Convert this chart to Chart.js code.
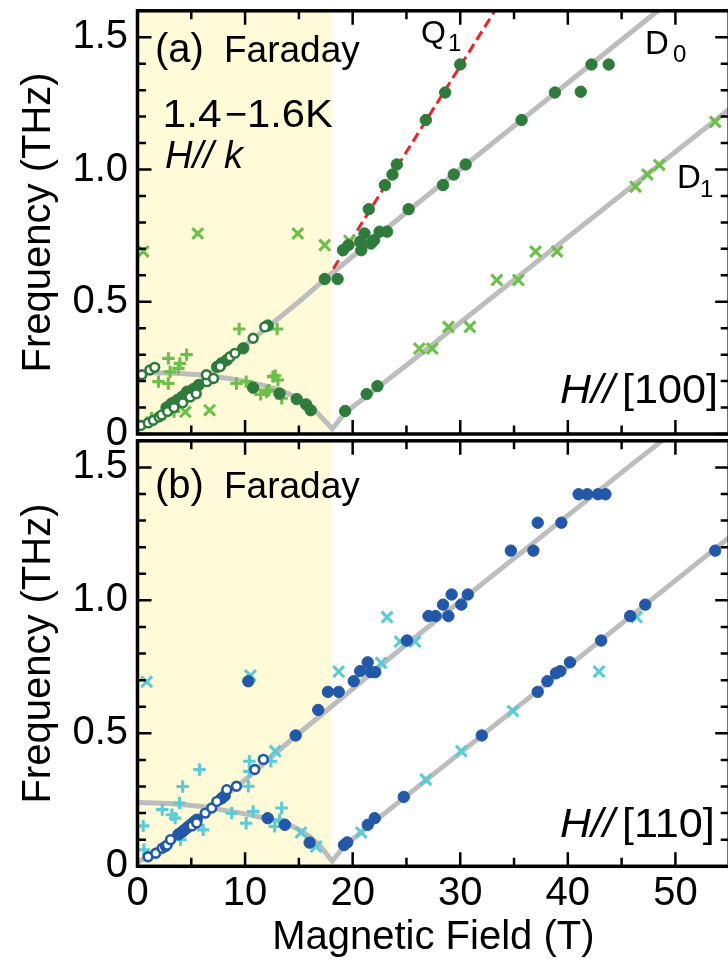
<!DOCTYPE html>
<html><head><meta charset="utf-8">
<script src="https://cdn.jsdelivr.net/npm/chart.js@4"></script>
<style>
html,body{margin:0;padding:0;background:#fff;overflow:hidden;width:728px;height:963px;position:relative;}
#ca{position:absolute;left:0;top:0;}
#cb{position:absolute;left:0;top:430px;}
</style></head><body>
<canvas id="ca" width="740" height="470"></canvas>
<canvas id="cb" width="740" height="533"></canvas>
<script>
// ---------- axes ----------
const X_MIN = 0, X_MAX = 55, Y_MIN = 0, Y_MAX = 1.6;
const xTickValues = [0, 10, 20, 30, 40, 50];
const xTickLabels = ['0', '10', '20', '30', '40', '50'];
const yTickValues = [0, 0.5, 1.0, 1.5];
const yTickLabels = ['0', '0.5', '1.0', '1.5'];
const shadedField = [0, 18];

// ---------- panel (a) H//[100] ----------
const aFilledCircles = [
 [2.7,0.10],[3.07,0.109],[3.2,0.116],[3.69,0.128],[4.15,0.141],[4.6,0.16],[5.2,0.17],[5.68,0.185],[7.4,0.254],[7.68,0.26],[7.8,0.267],[8.3,0.28],[9.83,0.324],[12.1,0.41],
 [10.75,0.175],[13.2,0.153],[14.8,0.132],[15.67,0.112],[16.1,0.09],
 [17.4,0.586],[18.6,0.586],
 [19.3,0.087],[21.3,0.151],[22.3,0.181],
 [19.1,0.695],[19.6,0.714],[20.8,0.695],[20.7,0.727],[21.1,0.758],[21.7,0.72],[22.0,0.733],[22.5,0.765],[23.2,0.765],
 [21.5,0.85],[23.0,0.941],[23.7,0.981],[24.1,1.019],[26.8,1.187],[28.6,1.291],[30.0,1.397],
 [25.2,0.85],[28.4,0.941],[29.4,0.981],[30.5,1.019],[35.7,1.187],[38.8,1.291],[41.2,1.294],[42.2,1.397],[43.8,1.397]
];
const aOpenCircles = [
 [0.4,0.224],[1.15,0.242],[1.6,0.252],
 [0.3,0.032],[1.0,0.042],[1.47,0.052],[2.0,0.064],[2.25,0.072],[2.8,0.085],[3.4,0.1],[4.2,0.118],[4.9,0.14],[5.46,0.152],
 [6.45,0.198],[6.4,0.224],[7.07,0.21],[7.68,0.255],[8.6,0.292],[9.06,0.305],[10.75,0.362],[11.83,0.405]
];
const aCrosses = [
 [0.53,0.69],[5.6,0.758],[14.9,0.758],[17.4,0.714],[4.45,0.084],[6.7,0.09],[19.7,0.73],
 [26.2,0.323],[27.4,0.323],[28.9,0.405],[30.9,0.405],[33.4,0.582],[35.4,0.582],[37.0,0.69],[39.0,0.69],
 [46.3,0.935],[47.4,0.981],[48.5,1.017],[53.7,1.18]
];
const aPluses = [
 [1.3,0.06],[2.5,0.075],[3.4,0.085],[1.95,0.198],[2.87,0.191],[3.03,0.235],[3.8,0.248],[3.94,0.267],[2.87,0.286],[4.56,0.3],
 [9.2,0.191],[10.1,0.198],[9.45,0.397],[12.98,0.397],[11.45,0.15],[12.0,0.16],[12.2,0.166],[12.6,0.217],[12.8,0.22],[13.05,0.204],[13.4,0.135]
];
const aLowerBranch = [[0,0.232],[2,0.232],[4,0.229],[6,0.223],[8,0.213],[10,0.2],[12,0.181],[13.5,0.162],[14.8,0.138],[15.8,0.112],[16.6,0.085],[17.3,0.055],[18.1,0.02],[19.3,0.08],[25,0.26],[55,1.228]];
const aD0Branch = [[0,0.02],[1,0.045],[2.5,0.09],[5,0.17],[10,0.335],[15,0.5],[18,0.605],[25.2,0.845],[35.7,1.187],[48.6,1.608],[52,1.72]];
const aQ1Line = [[18.2,0.625],[33.6,1.625]];

// ---------- panel (b) H//[110] ----------
const bFilledCircles = [
 [3.8,0.12],[4.1,0.128],[4.3,0.135],[4.6,0.145],[4.9,0.155],[5.2,0.165],[5.5,0.175],[7.8,0.255],[8.1,0.265],
 [12.1,0.181],[13.7,0.156],[16.0,0.089],
 [10.3,0.696],
 [14.7,0.492],[16.8,0.588],[17.7,0.656],[18.7,0.656],[20.1,0.696],[20.7,0.734],[21.4,0.767],[21.7,0.73],[22.1,0.73],[25.05,0.849],
 [27.05,0.941],[27.7,0.941],[28.9,0.941],[28.4,0.984],[29.2,1.022],[30.1,0.984],[30.7,1.022],[34.7,1.187],[36.8,1.187],
 [37.2,1.292],[39.4,1.292],[41.0,1.399],[41.8,1.399],[42.8,1.399],[43.5,1.399],
 [19.2,0.08],[19.5,0.09],[21.4,0.156],[22.05,0.181],[24.75,0.261],[32.0,0.492],[37.2,0.656],[38.1,0.696],[38.9,0.726],[39.3,0.734],
 [40.2,0.767],[43.1,0.849],[45.8,0.941],[47.2,0.984],[53.7,1.187]
];
const bOpenCircles = [
 [0.98,0.036],[1.7,0.049],[2.3,0.068],[2.6,0.075],[2.76,0.08],[3.07,0.1],[5.07,0.152],[5.5,0.163],[6.3,0.2],[6.9,0.219],
 [7.37,0.244],[8.3,0.288],[9.2,0.301],[10.9,0.364],[11.7,0.402]
];
const bCrosses = [
 [0.85,0.694],[10.5,0.717],[18.7,0.732],[12.8,0.433],[15.2,0.127],[16.6,0.074],[20.8,0.127],[22.65,0.765],[23.2,0.937],
 [24.4,0.845],[25.8,0.845],[26.8,0.326],[30.1,0.433],[34.9,0.584],[42.9,0.732],[46.4,0.937]
];
const bPluses = [
 [0.53,0.152],[0.6,0.062],[2.3,0.213],[3.2,0.194],[3.5,0.181],[3.9,0.238],[4.2,0.3],[4.0,0.1],[5.76,0.364],[6.1,0.137],
 [8.76,0.2],[10.1,0.162],[10.3,0.301],[10.4,0.395],[10.4,0.357],[10.75,0.206],[12.4,0.395],[12.75,0.15],[13.2,0.175],[13.4,0.219]
];
const bLowerBranch = [[0,0.24],[3,0.236],[6,0.225],[10,0.197],[12,0.18],[13.8,0.162],[15,0.138],[16,0.112],[16.8,0.085],[17.4,0.055],[18.1,0.02],[19.3,0.08],[25,0.265],[55,1.237]];
const bD0Branch = [[0,0.015],[1,0.04],[2.5,0.085],[5,0.165],[10,0.325],[14.7,0.49],[18,0.6],[25,0.835],[45.6,1.5],[50,1.64]];

// ---------- styles ----------
const FONT = "'Liberation Sans', Arial, Helvetica, sans-serif";
const DARK_GREEN = '#2e7b3b', LIGHT_GREEN = '#6cc04a';
const DARK_BLUE = '#2357a7', CYAN = '#5ccbd6';
const THEORY_GRAY = '#bdbdbd', Q_RED = '#e8242c', BAND = '#fffad8';
const Y_AXIS_WIDTH = 137.5;

Chart.defaults.font.family = FONT;
Chart.defaults.color = '#000';

const pts = arr => arr.map(([x, y]) => ({x, y}));

function buildDatasets(p) {
  const sets = [
    {data: pts(p.open), pointStyle: 'circle', pointRadius: 4.4, pointBorderWidth: 2.6, pointBackgroundColor: '#fff', pointBorderColor: p.dark, showLine: false, order: 0},
    {data: pts(p.filled), pointStyle: 'circle', pointRadius: 5.7, pointBorderWidth: 1, pointBackgroundColor: p.dark, pointBorderColor: p.dark, showLine: false, order: 1},
    {data: pts(p.crosses), pointStyle: 'crossRot', pointRadius: 7.7, pointBorderWidth: 3.1, pointBorderColor: p.light, pointBackgroundColor: p.light, showLine: false, order: 2},
    {data: pts(p.pluses), pointStyle: 'cross', pointRadius: 6.2, pointBorderWidth: 3.1, pointBorderColor: p.light, pointBackgroundColor: p.light, showLine: false, order: 3},
    {data: pts(p.lower), showLine: true, borderColor: THEORY_GRAY, borderWidth: 5, pointRadius: 0, tension: 0, fill: false, order: 6},
    {data: pts(p.d0), showLine: true, borderColor: THEORY_GRAY, borderWidth: 5, pointRadius: 0, tension: 0, fill: false, order: 6}
  ];
  if (p.q1) sets.push({data: pts(p.q1), showLine: true, borderColor: Q_RED, borderWidth: 3, borderDash: [10, 5], pointRadius: 0, tension: 0, fill: false, order: 5});
  return sets;
}

const bandPlugin = {
  id: 'band',
  beforeDatasetsDraw(chart) {
    const {ctx, chartArea: {top, bottom}, scales: {x}} = chart;
    const x0 = x.getPixelForValue(shadedField[0]), x1 = x.getPixelForValue(shadedField[1]);
    ctx.save(); ctx.fillStyle = BAND; ctx.fillRect(x0, top, x1 - x0, bottom - top); ctx.restore();
  }
};

const framePlugin = {
  id: 'frame',
  afterDraw(chart) {
    const {ctx, chartArea: {left, right, top, bottom}, scales: {x, y}} = chart;
    ctx.save();
    ctx.strokeStyle = '#000'; ctx.lineWidth = 2.5; ctx.lineCap = 'butt';
    ctx.beginPath();
    for (let v = X_MIN; v <= X_MAX + 1e-9; v += 5) {
      const px = x.getPixelForValue(v), L = (Math.round(v) % 10 === 0) ? 14 : 8.5;
      ctx.moveTo(px, bottom); ctx.lineTo(px, bottom - L);
      ctx.moveTo(px, top); ctx.lineTo(px, top + L);
    }
    for (let i = 0; i <= 16; i++) {
      const py = y.getPixelForValue(i / 10), L = (i % 5 === 0) ? 14 : 8.5;
      ctx.moveTo(left, py); ctx.lineTo(left + L, py);
      ctx.moveTo(right, py); ctx.lineTo(right - L, py);
    }
    ctx.stroke();
    ctx.lineWidth = 3.5;
    ctx.strokeRect(left, top, right - left, bottom - top);
    ctx.restore();
  }
};

function textPlugin(items) {
  return {
    id: 'texts',
    afterDraw(chart) {
      const ctx = chart.ctx;
      ctx.save(); ctx.fillStyle = '#000'; ctx.textAlign = 'left'; ctx.textBaseline = 'alphabetic';
      for (const it of items) {
        ctx.save();
        ctx.font = (it.italic ? 'italic ' : '') + it.size + 'px ' + FONT;
        ctx.translate(it.x, it.y);
        ctx.scale(it.sx || 1, 1);
        ctx.fillText(it.text, 0, 0);
        ctx.restore();
      }
      ctx.restore();
    }
  };
}

function makeChart(canvas, p) {
  return new Chart(canvas, {
    type: 'scatter',
    data: {datasets: buildDatasets(p)},
    options: {
      responsive: false, animation: false, events: [],
      layout: {padding: {left: 0, right: 740 - 734.3, top: p.padTop, bottom: 0}},
      plugins: {legend: {display: false}, tooltip: {enabled: false}},
      scales: {
        x: {
          type: 'linear', min: X_MIN, max: X_MAX,
          afterBuildTicks: s => { s.ticks = xTickValues.map(v => ({value: v})); },
          afterFit: s => { s.height = p.xHeight; s.paddingLeft = 0; s.paddingRight = 0; },
          grid: {display: false, drawTicks: false}, border: {display: false},
          ticks: {display: p.showX, padding: 4, maxRotation: 0, autoSkip: false, font: {size: 40},
                  callback: v => xTickLabels[xTickValues.indexOf(v)]},
          title: {display: p.showX, text: 'Magnetic Field (T)', font: {size: 40}, padding: {top: 0, bottom: 1.5}}
        },
        y: {
          type: 'linear', min: Y_MIN, max: Y_MAX,
          afterBuildTicks: s => { s.ticks = yTickValues.map(v => ({value: v})); },
          afterFit: s => { s.width = Y_AXIS_WIDTH; s.paddingTop = 0; s.paddingBottom = 0; },
          grid: {display: false, drawTicks: false}, border: {display: false},
          ticks: {padding: 9.5, font: {size: 40}, callback: v => yTickLabels[yTickValues.indexOf(v)]},
          title: {display: true, text: 'Frequency (THz)', font: {size: 40}, padding: {top: 15, bottom: 0}}
        }
      }
    },
    plugins: [bandPlugin, framePlugin, textPlugin(p.texts)]
  });
}

makeChart(document.getElementById('ca'), {
  open: aOpenCircles, filled: aFilledCircles, crosses: aCrosses, pluses: aPluses,
  lower: aLowerBranch, d0: aD0Branch, q1: aQ1Line,
  dark: DARK_GREEN, light: LIGHT_GREEN, padTop: 9, xHeight: 470 - 434, showX: false,
  texts: [
    {text: '(a)', x: 155, y: 62, size: 40},
    {text: 'Faraday', x: 224, y: 62, size: 37},
    {text: '1.4', x: 162.5, y: 127, size: 38, sx: 1.12},
    {text: '\u2212', x: 225, y: 127, size: 38},
    {text: '1.6K', x: 247, y: 127, size: 38, sx: 1.1},
    {text: 'H// k', x: 165, y: 168, size: 38, italic: true},
    {text: 'Q', x: 421, y: 43, size: 32},
    {text: '1', x: 448, y: 51, size: 24},
    {text: 'D', x: 645, y: 54, size: 33},
    {text: '0', x: 673, y: 62, size: 24},
    {text: 'D', x: 677, y: 188, size: 33},
    {text: '1', x: 700, y: 197, size: 24},
    {text: 'H//', x: 560, y: 403, size: 40, italic: true, sx: 1.07},
    {text: '[100]', x: 622, y: 403, size: 40, sx: 1.08}
  ]
});

makeChart(document.getElementById('cb'), {
  open: bOpenCircles, filled: bFilledCircles, crosses: bCrosses, pluses: bPluses,
  lower: bLowerBranch, d0: bD0Branch, q1: null,
  dark: DARK_BLUE, light: CYAN, padTop: 10.5, xHeight: 533 - 436.3, showX: true,
  texts: [
    {text: '(b)', x: 155, y: 68, size: 40},
    {text: 'Faraday', x: 224, y: 68, size: 37},
    {text: 'H//', x: 560, y: 407, size: 40, italic: true, sx: 1.07},
    {text: '[110]', x: 622, y: 407, size: 40, sx: 1.08}
  ]
});
</script>
</body></html>
